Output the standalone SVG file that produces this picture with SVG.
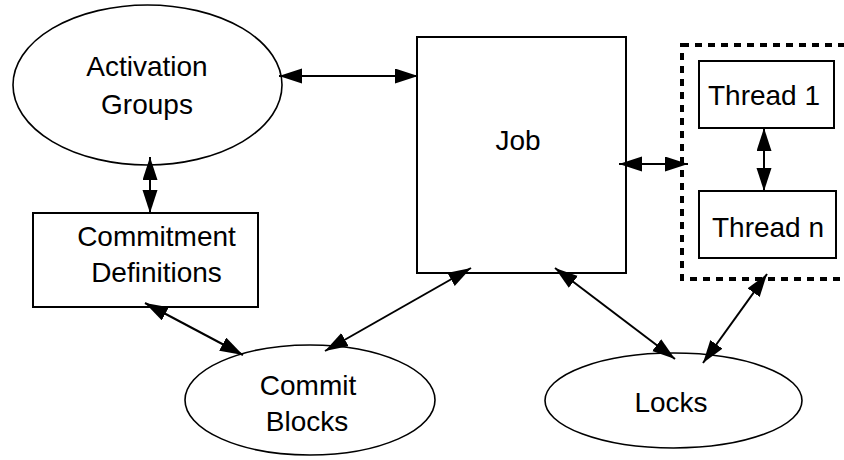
<svg xmlns="http://www.w3.org/2000/svg" width="844" height="460" viewBox="0 0 844 460">
  <style>
    .shape { fill: #fff; stroke: #000; stroke-width: 2; }
    .oval { fill: #fff; stroke: #000; stroke-width: 1.6; }
    .label { font-family: "Liberation Sans", Arial, sans-serif; font-size: 28px; fill: #000; text-anchor: middle; }
    .link { stroke: #000; stroke-width: 2; fill: none; marker-start: url(#head); marker-end: url(#head); }
    .group { fill: none; stroke: #000; stroke-width: 4; stroke-dasharray: 7 6; }
  </style>
  <defs>
    <marker id="head" markerUnits="userSpaceOnUse" markerWidth="24" markerHeight="16" refX="23" refY="7.5" orient="auto-start-reverse" viewBox="0 0 24 16">
      <path d="M0,0 L23,7.5 L0,15 z" fill="#000"/>
    </marker>
  </defs>

  <!-- thread container (dashed boundary) -->
  <g id="threads">
    <rect class="group" x="682" y="45" width="170" height="234"/>
  </g>

  <g id="activation-groups">
    <ellipse class="oval" cx="147.5" cy="85" rx="134.5" ry="80"/>
    <text class="label" x="147" y="76">Activation</text>
    <text class="label" x="147" y="114">Groups</text>
  </g>

  <g id="job">
    <rect class="shape" x="417" y="37" width="209" height="236"/>
    <text class="label" x="518" y="150">Job</text>
  </g>

  <g id="thread-1">
    <rect class="shape" x="699" y="61" width="135" height="67"/>
    <text class="label" x="764" y="105">Thread 1</text>
  </g>

  <g id="thread-n">
    <rect class="shape" x="699" y="191" width="137" height="67"/>
    <text class="label" x="768" y="237">Thread n</text>
  </g>

  <g id="commitment-definitions">
    <rect class="shape" x="33" y="213" width="225" height="94"/>
    <text class="label" x="156.5" y="246">Commitment</text>
    <text class="label" x="156.5" y="282">Definitions</text>
  </g>

  <g id="commit-blocks">
    <ellipse class="oval" cx="310" cy="400" rx="125" ry="55"/>
    <text class="label" x="308" y="395">Commit</text>
    <text class="label" x="307" y="431">Blocks</text>
  </g>

  <g id="locks">
    <ellipse class="oval" cx="673.5" cy="400.5" rx="128.5" ry="47.5"/>
    <text class="label" x="671" y="412">Locks</text>
  </g>

  <!-- connectors: all bidirectional -->
  <g id="connectors">
    <line class="link" x1="279" y1="76" x2="418" y2="76"/>
    <line class="link" x1="150" y1="157" x2="150" y2="213"/>
    <line class="link" x1="145" y1="303" x2="243" y2="355"/>
    <line class="link" x1="471" y1="268" x2="325" y2="351"/>
    <line class="link" x1="555" y1="268" x2="675" y2="359"/>
    <line class="link" x1="619" y1="164" x2="688" y2="164"/>
    <line class="link" x1="764" y1="128" x2="764" y2="191"/>
    <line class="link" x1="767" y1="274" x2="703" y2="363"/>
  </g>
</svg>
